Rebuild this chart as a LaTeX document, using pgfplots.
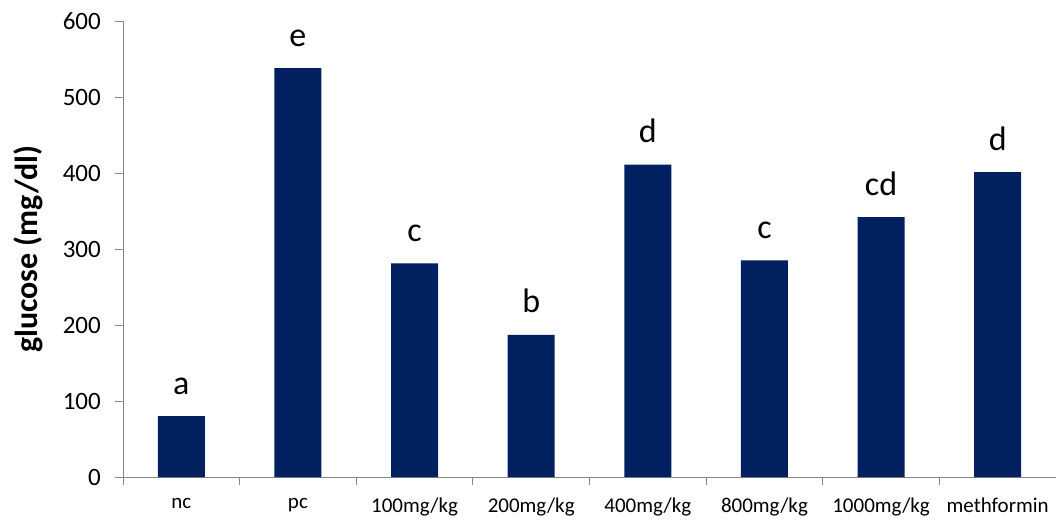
\documentclass[border=0pt]{standalone}
\usepackage{fontspec}
\setmainfont{Carlito}
\usepackage{pgfplots}
\pgfplotsset{compat=1.18}
\usepackage{pgfplotstable}
\definecolor{barblue}{HTML}{002060}
\definecolor{axgray}{HTML}{868686}
\pgfplotstableread{
x y lab
0 80 a
1 538 e
2 281 c
3 187 b
4 411 d
5 285 c
6 342 cd
7 401 d
}\datatable
\begin{document}
\begin{tikzpicture}[x=1pt,y=1pt]
\path[use as bounding box] (0,0) rectangle (1056,520);
\begin{axis}[
  at={(123pt,43pt)}, anchor=south west,
  scale only axis, width=933pt, height=456pt,
  xmin=-0.5, xmax=7.5, ymin=0, ymax=600,
  axis lines*=left,
  axis line style={axgray, line width=0.8pt},
  ytick={0,100,...,600},
  xtick={0,...,7},
  xticklabels={nc,pc,100mg/kg,200mg/kg,400mg/kg,800mg/kg,1000mg/kg,methformin},
  major x tick style={draw=none},
  minor xtick={-0.5,0.5,...,7.5},
  tick align=outside,
  tick style={axgray, line width=0.8pt},
  major tick length=8pt, minor tick length=8pt,
  /pgf/number format/assume math mode=true,
  yticklabel style={font=\fontsize{25}{30}\selectfont, inner sep=0pt},
  xticklabel style={font=\fontsize{21}{25}\selectfont, inner sep=0pt},
  yticklabel shift=14pt,
  xticklabel shift=13pt,
  ylabel={glucose (mg/dl)},
  ylabel style={at={(axis description cs:-0.1019,0.5)}, anchor=center, font=\bfseries\fontsize{32}{38}\selectfont},
  ybar, bar width=47pt,
  clip=false,
]
\addplot[fill=barblue, draw=none,
  nodes near coords, point meta=explicit symbolic,
  nodes near coords style={anchor=base, yshift=22pt, inner sep=0pt, font=\fontsize{34}{40}\selectfont, text=black}]
  table[x=x,y=y,meta=lab]{\datatable};
\end{axis}
\end{tikzpicture}
\end{document}
